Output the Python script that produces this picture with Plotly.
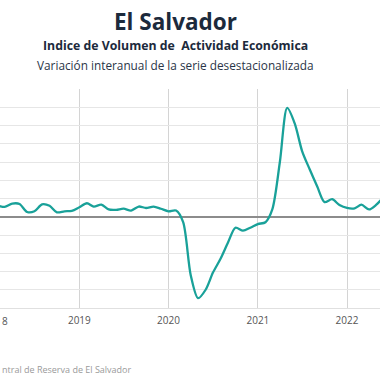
import plotly.graph_objects as go

months = ["2018-01-01","2018-02-01","2018-03-01","2018-04-01","2018-05-01","2018-06-01",
          "2018-07-01","2018-08-01","2018-09-01","2018-10-01","2018-11-01","2018-12-01",
          "2019-01-01","2019-02-01","2019-03-01","2019-04-01","2019-05-01","2019-06-01",
          "2019-07-01","2019-08-01","2019-09-01","2019-10-01","2019-11-01","2019-12-01",
          "2020-01-01","2020-02-01","2020-03-01","2020-04-01","2020-05-01","2020-06-01",
          "2020-07-01","2020-08-01","2020-09-01","2020-10-01","2020-11-01","2020-12-01",
          "2021-01-01","2021-02-01","2021-03-01","2021-04-01","2021-05-01","2021-06-01",
          "2021-07-01","2021-08-01","2021-09-01","2021-10-01","2021-11-01","2021-12-01",
          "2022-01-01","2022-02-01","2022-03-01","2022-04-01","2022-05-01","2022-06-01"]

variacion = [3.0, 3.0, 2.7, 3.6, 3.5, 1.3,
             1.5, 3.4, 3.0, 1.2, 1.5, 1.6,
             2.6, 3.7, 2.8, 3.3, 2.0, 1.9,
             2.2, 1.7, 2.8, 2.4, 2.8, 2.2,
             1.5, 1.7, -1.5, -16.0, -22.3, -20.0,
             -15.3, -11.5, -7.0, -3.0, -3.8, -3.0,
             -2.0, -1.5, 2.0, 15.0, 29.8, 25.5,
             18.0, 13.0, 8.3, 4.0, 4.8, 3.2,
             2.4, 2.3, 3.3, 2.0, 3.3, 5.5]

tick_vals = ["2019-01-01", "2020-01-01", "2021-01-01", "2022-01-01"]
tick_text = ["2019", "2020", "2021", "2022"]
first_tick_visible = "8"  # visible part of the cropped "2018" label

title = "El Salvador"
subtitle1 = "Indice de Volumen de  Actividad Económica"
subtitle2 = "Variación interanual de la serie desestacionalizada"
source_visible = "ntral de Reserva de El Salvador"  # visible part of the cropped source note

FONT = "Open Sans, sans-serif"

fig = go.Figure()
fig.add_trace(go.Scatter(
    x=months, y=variacion, mode="lines",
    line=dict(color="#19a199", width=2.3, shape="spline", smoothing=0.8),
    hoverinfo="skip", showlegend=False,
))

fig.update_layout(
    width=380, height=380,
    margin=dict(l=0, r=0, t=89, b=72),
    paper_bgcolor="white", plot_bgcolor="white",
    font=dict(family=FONT, color="#555"),
    xaxis=dict(
        type="date",
        range=["2018-02-10", "2022-05-16"],
        tickvals=tick_vals, ticktext=tick_text,
        showgrid=True, gridcolor="#d4d4d4", gridwidth=1,
        showline=True, linecolor="#e0e0e0", linewidth=1,
        ticks="", tickfont=dict(size=10, color="#555"),
        ticklabelstandoff=3,
        zeroline=False,
    ),
    yaxis=dict(
        range=[-25, 35], dtick=5,
        showgrid=True, gridcolor="#e6e6e6", gridwidth=1,
        zeroline=True, zerolinecolor="#8c8c8c", zerolinewidth=2,
        showticklabels=False, ticks="",
    ),
)

def py(ypix):
    return 1 + (89 - ypix) / 219

cx = 175 / 380
anns = [
    dict(x=cx, xref="paper", y=py(21.5), yref="paper", text="<b>" + title + "</b>",
         showarrow=False, xanchor="center", yanchor="middle",
         font=dict(size=22.5, color="#1c2a3c", family=FONT)),
    dict(x=cx, xref="paper", y=py(45), yref="paper", text="<b>" + subtitle1 + "</b>",
         showarrow=False, xanchor="center", yanchor="middle",
         font=dict(size=12.3, color="#1c2a3c", family=FONT)),
    dict(x=cx, xref="paper", y=py(65), yref="paper", text=subtitle2,
         showarrow=False, xanchor="center", yanchor="middle",
         font=dict(size=11.8, color="#2a3547", family=FONT)),
    dict(x=0, xref="paper", y=py(321), yref="paper", text=first_tick_visible,
         showarrow=False, xanchor="left", yanchor="middle",
         font=dict(size=10, color="#555", family=FONT)),
    dict(x=0, xref="paper", y=py(369), yref="paper", text=source_visible,
         showarrow=False, xanchor="left", yanchor="middle",
         font=dict(size=9, color="#9a9a9a", family=FONT)),
]
fig.layout.annotations = anns

fig.write_html("out.html", config={"displayModeBar": False},
               post_script="document.body.style.margin='0px';")
